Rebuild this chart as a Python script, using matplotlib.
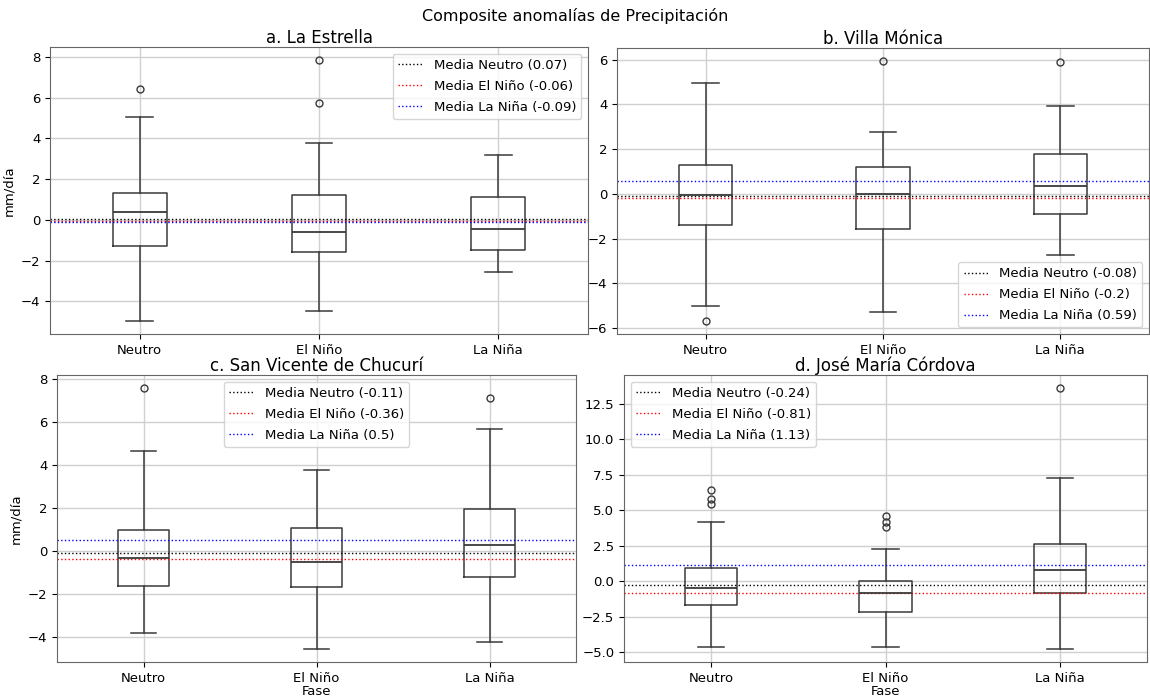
import matplotlib
matplotlib.use("Agg")
import matplotlib.pyplot as plt

fases = ["Neutro", "El Niño", "La Niña"]

# box statistics per station (whislo, q1, med, q3, whishi, fliers)
estrella_whislo = [-4.96, -4.49, -2.58]
estrella_q1 = [-1.26, -1.55, -1.47]
estrella_med = [0.40, -0.60, -0.43]
estrella_q3 = [1.30, 1.20, 1.14]
estrella_whishi = [5.05, 3.80, 3.17]
estrella_fliers = [[6.42], [7.85, 5.72], []]
estrella_means = [0.07, -0.06, -0.09]

villa_whislo = [-5.02, -5.27, -2.75]
villa_q1 = [-1.38, -1.56, -0.91]
villa_med = [-0.03, -0.02, 0.36]
villa_q3 = [1.29, 1.19, 1.77]
villa_whishi = [4.96, 2.78, 3.92]
villa_fliers = [[-5.68], [5.94], [5.90]]
villa_means = [-0.08, -0.2, 0.59]

chucuri_whislo = [-3.81, -4.57, -4.23]
chucuri_q1 = [-1.64, -1.70, -1.24]
chucuri_med = [-0.34, -0.54, 0.25]
chucuri_q3 = [0.96, 1.08, 1.93]
chucuri_whishi = [4.66, 3.76, 5.68]
chucuri_fliers = [[7.58], [], [7.10]]
chucuri_means = [-0.11, -0.36, 0.5]

cordova_whislo = [-4.63, -4.63, -4.78]
cordova_q1 = [-1.69, -2.15, -0.87]
cordova_med = [-0.47, -0.87, 0.80]
cordova_q3 = [0.94, 0.02, 2.62]
cordova_whishi = [4.14, 2.25, 7.26]
cordova_fliers = [[6.41, 5.78, 5.45], [4.59, 4.19, 3.82], [13.6]]
cordova_means = [-0.24, -0.81, 1.13]

paneles = [
    ("a. La Estrella", estrella_whislo, estrella_q1, estrella_med, estrella_q3,
     estrella_whishi, estrella_fliers, estrella_means, "upper right"),
    ("b. Villa Mónica", villa_whislo, villa_q1, villa_med, villa_q3,
     villa_whishi, villa_fliers, villa_means, "lower right"),
    ("c. San Vicente de Chucurí", chucuri_whislo, chucuri_q1, chucuri_med, chucuri_q3,
     chucuri_whishi, chucuri_fliers, chucuri_means, "upper center"),
    ("d. José María Córdova", cordova_whislo, cordova_q1, cordova_med, cordova_q3,
     cordova_whishi, cordova_fliers, cordova_means, "upper left"),
]

plt.rcParams['font.size'] = 9.5

W, H = 1150, 698
# axes boxes in pixels: left, right, top, bottom
cajas = [(50, 588, 47, 334), (617, 1149, 48, 334), (57, 576, 375, 662), (624, 1147, 375, 662)]

fig = plt.figure(figsize=(11.5, 6.98), dpi=100)
fig.suptitle("Composite anomalías de Precipitación", fontsize=11.5, y=0.988)

mean_colors = ["black", "red", "blue"]
line_col = "#3a3a3a"

for i, (titulo, wlo, q1, med, q3, whi, fl, means, loc) in enumerate(paneles):
    l, r, t, b = cajas[i]
    ax = fig.add_axes([l / W, 1 - b / H, (r - l) / W, (b - t) / H])
    stats = []
    for k in range(3):
        stats.append(dict(whislo=wlo[k], q1=q1[k], med=med[k], q3=q3[k],
                          whishi=whi[k], fliers=fl[k], label=fases[k]))
    ax.bxp(stats, positions=[1, 2, 3], widths=0.3,
           boxprops=dict(color=line_col, linewidth=1.1),
           whiskerprops=dict(color=line_col, linewidth=1.1),
           capprops=dict(color=line_col, linewidth=1.1),
           medianprops=dict(color=line_col, linewidth=1.3),
           flierprops=dict(marker="o", markerfacecolor="none",
                           markeredgecolor=line_col, markersize=5))
    for k in range(3):
        ax.axhline(means[k], color=mean_colors[k], linestyle=":", linewidth=1,
                   label="Media %s (%s)" % (fases[k], means[k]))
    ax.grid(True, color="#d0d0d0", linewidth=1)
    ax.set_axisbelow(True)
    ax.set_title(titulo, fontsize=12, pad=3)
    ax.legend(loc=loc, fontsize=9.5, labelspacing=0.6, handlelength=1.9)
    for s in ax.spines.values():
        s.set_color("#666666")
    if i in (0, 2):
        ax.set_ylabel("mm/día")
    if i in (2, 3):
        ax.set_xlabel("Fase", labelpad=0)

fig.savefig("out.png", dpi=100)
